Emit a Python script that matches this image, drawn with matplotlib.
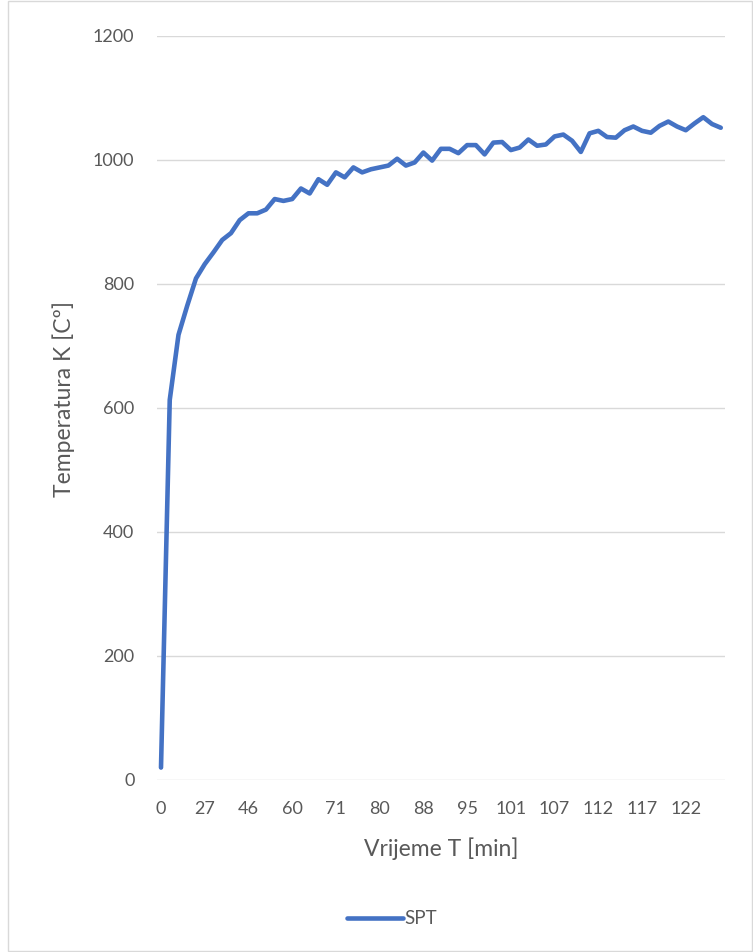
import matplotlib
matplotlib.use("Agg")
import matplotlib.pyplot as plt
from matplotlib.patches import Rectangle

# temperatura po kategorijama (jedna tocka po mjerenju)
temperatura = [20, 613, 718, 765, 809, 832, 851, 871, 882, 903,
               914, 914, 920, 937, 934, 937, 954, 946, 969, 960,
               980, 972, 988, 980, 985, 988, 991, 1002, 991, 996,
               1012, 999, 1018, 1018, 1011, 1024, 1024, 1009, 1028, 1029,
               1016, 1020, 1033, 1023, 1025, 1038, 1041, 1031, 1013, 1043,
               1047, 1037, 1036, 1048, 1054, 1047, 1044, 1055, 1062, 1054,
               1048, 1059, 1069, 1058, 1052]

# vidljive oznake na x osi (svaka peta kategorija)
oznake_vremena = ['0', '27', '46', '60', '71', '80', '88', '95', '101', '107', '112', '117', '122']
korak_oznaka = 5

siva_tekst = '#595959'
siva_mreza = '#d9d9d9'
plava = '#4472C4'

plt.rcParams['font.family'] = ['Lato', 'DejaVu Sans']

fig = plt.figure(figsize=(7.53, 9.52), dpi=100)
ax = fig.add_axes([0.208, 0.1807, 0.755, 0.7815])

x = list(range(len(temperatura)))
ax.plot(x, temperatura, color=plava, linewidth=3.3, solid_joinstyle='round',
        solid_capstyle='round', label='SPT', zorder=3)

ax.set_xlim(-0.5, len(temperatura) - 0.5)
ax.set_ylim(0, 1200)
ax.set_yticks(range(0, 1201, 200))
ax.set_xticks(x[::korak_oznaka])
ax.set_xticklabels(oznake_vremena)

ax.grid(axis='y', color=siva_mreza, linewidth=1.0)
ax.set_axisbelow(True)
for s in ax.spines.values():
    s.set_visible(False)
ax.tick_params(axis='both', length=0, labelsize=13, colors=siva_tekst)
ax.tick_params(axis='y', pad=16)
ax.tick_params(axis='x', pad=15)

ax.set_xlabel('Vrijeme T [min]', fontsize=16.5, color=siva_tekst)
ax.set_ylabel('Temperatura K [Cº]', fontsize=16.5, color=siva_tekst)
ax.xaxis.set_label_coords(0.5, -0.077)
ax.yaxis.set_label_coords(-0.143, 0.512)

leg = fig.legend(loc='center', bbox_to_anchor=(0.52, 0.035), frameon=False,
                 fontsize=13.5, handlelength=3.0, handletextpad=0.05)
for t in leg.get_texts():
    t.set_color(siva_tekst)

# okvir grafikona
fig.patches.append(Rectangle((8 / 753, 1 / 952), 744 / 753, 950 / 952,
                             transform=fig.transFigure, fill=False,
                             edgecolor=siva_mreza, linewidth=1.0))

fig.savefig('out.png', dpi=100)
